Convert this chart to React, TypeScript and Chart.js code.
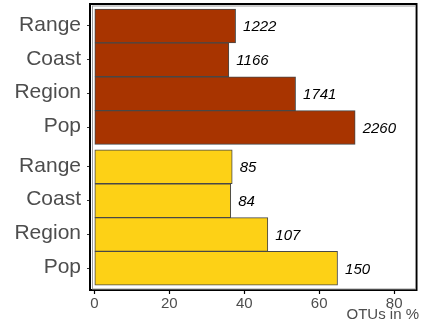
import React, { useEffect, useRef } from "react";
import { Chart, registerables } from "chart.js";

Chart.register(...registerables);

const categories = ["Range", "Coast", "Region", "Pop"];
const groupA = [37.7, 35.9, 53.7, 69.6];
const groupB = [36.8, 36.4, 46.3, 64.9];
const countsA = [1222, 1166, 1741, 2260];
const countsB = [85, 84, 107, 150];
const xTicks = [0, 20, 40, 60, 80];
const xTitle = "OTUs in %";

const RED = "#A83400";
const YEL = "#FDD116";
const GAP = 0.16;

export default function App() {
  const ref = useRef<HTMLCanvasElement>(null);
  useEffect(() => {
    const labels = [...categories, ...categories];
    const positions = labels.map((_, i) => i + (i >= categories.length ? GAP : 0));
    const values = [...groupA, ...groupB];
    const counts = [...countsA, ...countsB];
    const colors = labels.map((_, i) => (i < categories.length ? RED : YEL));

    const overlay = {
      id: "overlay",
      afterDatasetsDraw(chart: any) {
        const ctx = chart.ctx;
        const ca = chart.chartArea;
        const meta = chart.getDatasetMeta(0);
        ctx.save();
        ctx.fillStyle = "#000";
        ctx.font = "italic 15px 'Liberation Sans', Arial, sans-serif";
        ctx.textAlign = "left";
        ctx.textBaseline = "middle";
        meta.data.forEach((el: any, i: number) => {
          ctx.fillText(String(counts[i]), el.x + 7.5, el.y + 1);
        });
        // panel border
        ctx.strokeStyle = "#000";
        ctx.lineWidth = 2;
        ctx.strokeRect(ca.left - 1, ca.top, ca.right - ca.left + 0.5, ca.bottom - ca.top);
        ctx.strokeStyle = "#9a9a9a";
        ctx.lineWidth = 1;
        ctx.strokeRect(ca.left + 1.5, ca.top + 2, ca.right - ca.left - 3, ca.bottom - ca.top - 3);
        // axis title
        ctx.fillStyle = "#4D4D4D";
        ctx.font = "15px 'Liberation Sans', Arial, sans-serif";
        ctx.textAlign = "right";
        ctx.textBaseline = "middle";
        ctx.fillText(xTitle, 419, 315);
        ctx.restore();
      },
    };

    const chart = new Chart(ref.current!, {
      type: "bar",
      data: {
        datasets: [
          {
            data: values.map((v, i) => ({ x: v, y: positions[i] })),
            backgroundColor: colors,
            borderColor: "#474747",
            borderWidth: 1,
            borderSkipped: false,
            barPercentage: 1,
            categoryPercentage: 1,
          },
        ],
      },
      options: {
        indexAxis: "y",
        responsive: false,
        animation: false,
        layout: { padding: { top: 4, right: 4, left: 0, bottom: 0 } },
        plugins: { legend: { display: false }, tooltip: { enabled: false } },
        scales: {
          x: {
            type: "linear",
            min: -0.88,
            max: 86.1,
            offset: false,
            afterBuildTicks: (s: any) => {
              s.ticks = xTicks.map((v) => ({ value: v }));
            },
            afterFit: (s: any) => {
              s.height = 34;
              s.paddingLeft = 0;
              s.paddingRight = 0;
            },
            grid: { offset: false, drawOnChartArea: false, drawTicks: true, tickLength: 4, tickColor: "#000", tickWidth: 1.2 },
            border: { display: false },
            ticks: {
              color: "#4D4D4D",
              font: { family: "'Liberation Sans', Arial, sans-serif", size: 15 },
              padding: 1,
              maxRotation: 0,
            },
          },
          y: {
            type: "linear",
            reverse: true,
            offset: false,
            min: -0.5 - 0.148,
            max: 7.5 + GAP + 0.139,
            afterBuildTicks: (s: any) => {
              s.ticks = positions.map((v) => ({ value: v }));
            },
            afterFit: (s: any) => {
              s.width = 91;
              s.paddingTop = 0;
              s.paddingBottom = 0;
            },
            grid: { offset: false, drawOnChartArea: false, drawTicks: true, tickLength: 4, tickColor: "#333", tickWidth: 1 },
            border: { display: false },
            ticks: {
              color: "#4D4D4D",
              font: { family: "'Liberation Sans', Arial, sans-serif", size: 21 },
              padding: 6,
              labelOffset: -1,
              callback: (_v: any, i: number) => labels[i],
            },
          },
        },
      },
      plugins: [overlay],
    } as any);
    return () => chart.destroy();
  }, []);

  return (
    <div style={{ position: "fixed", left: 0, top: 0, width: 421, height: 324, background: "#fff" }}>
      <canvas ref={ref} width={421} height={324} style={{ display: "block" }} />
    </div>
  );
}
